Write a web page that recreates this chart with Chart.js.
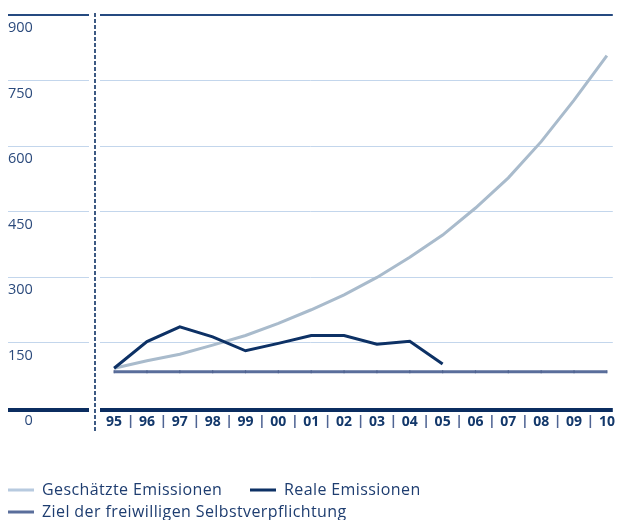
<!DOCTYPE html>
<html>
<head>
<meta charset="utf-8">
<script src="https://cdn.jsdelivr.net/npm/chart.js@4.4.1/dist/chart.umd.min.js"></script>
<style>
  html, body { margin: 0; padding: 0; background: #fff; }
  #wrap { width: 618px; height: 520px; position: relative; }
</style>
</head>
<body>
<div id="wrap"><canvas id="c"></canvas></div>
<script>
// Years 1995–2010 (two-digit labels)
const years = ['95','96','97','98','99','00','01','02','03','04','05','06','07','08','09','10'];
// Estimated emissions (projection)
const estimated = [91, 108, 123, 144, 166, 194, 225, 259, 299, 345, 396, 458, 527, 610, 705, 807];
// Actual emissions, 1995–2005
const actual = [91, 152, 186, 163, 131, 148, 166, 166, 146, 153, 101];
// Voluntary commitment target
const target = [83, 83, 83, 83, 83, 83, 83, 83, 83, 83, 83, 83, 83, 83, 83, 83];
const yTicks = [0, 150, 300, 450, 600, 750, 900];

const seriesNames = ['Geschätzte Emissionen', 'Reale Emissionen', 'Ziel der freiwilligen Selbstverpflichtung'];

const NAVY = '#0d3165';
const GREY = '#a9bbcc';
const SLATE = '#5a6e9b';
const FONT = '"Open Sans", "Noto Sans", sans-serif';

const toPoints = arr => arr.map((v, i) => ({ x: i, y: v }));

// Split the plot into a label panel and a data panel with a dashed divider,
// and draw the heavy zero baseline.
const panelGap = {
  id: 'panelGap',
  beforeDatasetsDraw(chart) {
    const { ctx, chartArea, scales: { y } } = chart;
    const z = y.getPixelForValue(0);
    ctx.save();
    ctx.fillStyle = '#0b2d60';
    ctx.fillRect(chartArea.left, z, chartArea.right - chartArea.left, 4);
    ctx.fillStyle = '#ffffff';
    ctx.fillRect(89, 0, 11, z + 6);
    ctx.strokeStyle = '#0d3165';
    ctx.lineWidth = 1.6;
    ctx.setLineDash([4, 2]);
    ctx.beginPath();
    ctx.moveTo(95, 13);
    ctx.lineTo(95, 432);
    ctx.stroke();
    ctx.restore();
  }
};

// Legend drawn below the plot in two rows
const bottomLegend = {
  id: 'bottomLegend',
  afterDraw(chart) {
    const { ctx } = chart;
    const slots = [
      { ds: 0, x: 8, y: 490, color: '#b7cadf' },
      { ds: 1, x: 250, y: 490, color: NAVY },
      { ds: 2, x: 8, y: 512, color: SLATE }
    ];
    ctx.save();
    ctx.font = '16px ' + FONT;
    if ('letterSpacing' in ctx) ctx.letterSpacing = '0.4px';
    ctx.textBaseline = 'middle';
    ctx.textAlign = 'left';
    slots.forEach(s => {
      const ds = chart.data.datasets[s.ds];
      ctx.fillStyle = s.color;
      ctx.fillRect(s.x, s.y - 1.5, 26, 3);
      ctx.fillStyle = '#1e3d70';
      ctx.fillText(ds.label, s.x + 34, s.y);
    });
    ctx.restore();
  }
};

new Chart(document.getElementById('c'), {
  type: 'line',
  data: {
    datasets: [
      {
        label: seriesNames[0],
        data: toPoints(estimated),
        borderColor: GREY,
        backgroundColor: GREY,
        borderWidth: 3,
        pointRadius: 0,
        tension: 0,
        order: 3
      },
      {
        label: seriesNames[1],
        data: toPoints(actual),
        borderColor: NAVY,
        backgroundColor: NAVY,
        borderWidth: 3,
        pointRadius: 0,
        tension: 0,
        order: 1
      },
      {
        label: seriesNames[2],
        data: toPoints(target),
        borderColor: SLATE,
        backgroundColor: SLATE,
        borderWidth: 3,
        pointStyle: 'line',
        pointRotation: 90,
        pointRadius: 1.5,
        pointBorderWidth: 1.2,
        pointBorderColor: '#4f6390',
        tension: 0,
        order: 2
      }
    ]
  },
  options: {
    responsive: true,
    maintainAspectRatio: false,
    animation: false,
    events: [],
    layout: { padding: { top: 15, left: 8, right: 0, bottom: 92 } },
    plugins: {
      legend: { display: false },
      tooltip: { enabled: false }
    },
    scales: {
      x: {
        type: 'linear',
        position: 'bottom',
        min: -3.23,
        max: 15.18,
        grid: { display: false, drawTicks: false },
        border: { display: false },
        afterBuildTicks: s => {
          const t = [];
          years.forEach((_, i) => {
            t.push({ value: i });
            if (i < years.length - 1) t.push({ value: i + 0.5 });
          });
          s.ticks = t;
        },
        afterFit: s => {
          s.height = 20;
          s.paddingLeft = 0;
          s.paddingRight = 0;
        },
        ticks: {
          autoSkip: false,
          maxRotation: 0,
          minRotation: 0,
          padding: 6,
          font: { family: FONT, size: 14, weight: 'bold' },
          color: c => Number.isInteger(c.tick.value) ? '#13386b' : '#4f6493',
          callback: v => Number.isInteger(v) ? years[v] : '|'
        }
      },
      y: {
        type: 'linear',
        position: 'left',
        min: 0,
        max: 900,
        afterBuildTicks: s => { s.ticks = yTicks.map(v => ({ value: v })); },
        afterFit: s => {
          s.width = 0;
          s.paddingTop = 0;
          s.paddingBottom = 0;
        },
        border: { display: false },
        grid: {
          drawTicks: false,
          color: c => c.tick.value === 900 ? '#254a80' : (c.tick.value === 0 ? 'rgba(0,0,0,0)' : '#c3d6ec'),
          lineWidth: c => c.tick.value === 900 ? 2 : 1
        },
        ticks: {
          mirror: true,
          crossAlign: 'far',
          padding: 0,
          labelOffset: 13,
          color: '#2b4a7c',
          font: { family: FONT, size: 14.5 },
          callback: v => String(v)
        }
      }
    }
  },
  plugins: [panelGap, bottomLegend]
});
</script>
</body>
</html>
